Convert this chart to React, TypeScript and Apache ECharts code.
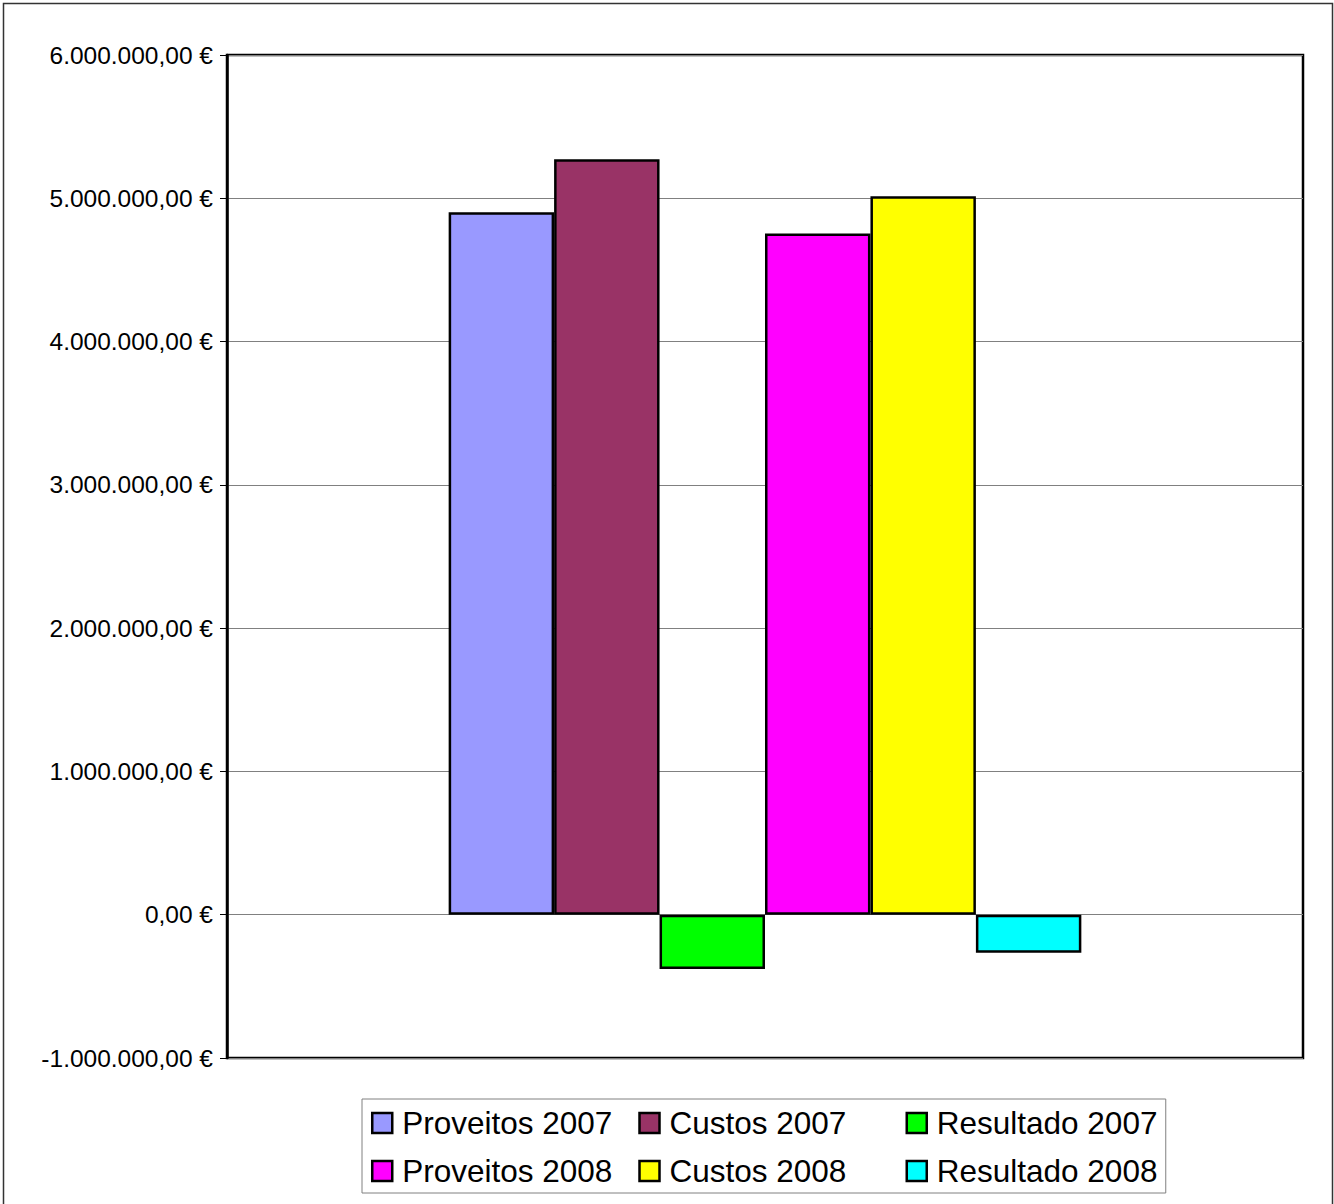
import React, { useEffect, useRef } from "react";
import * as echarts from "echarts";

const categories = ["2007/2008"];
const seriesNames = [
  "Proveitos 2007",
  "Custos 2007",
  "Resultado 2007",
  "Proveitos 2008",
  "Custos 2008",
  "Resultado 2008",
];
const proveitos2007 = [4902000];
const custos2007 = [5273000];
const resultado2007 = [-378000];
const proveitos2008 = [4755000];
const custos2008 = [5014000];
const resultado2008 = [-266000];
const seriesValues = [proveitos2007, custos2007, resultado2007, proveitos2008, custos2008, resultado2008];
const seriesColors = ["#9999FF", "#993366", "#00FF00", "#FF00FF", "#FFFF00", "#00FFFF"];
const yMin = -1000000;
const yMax = 6000000;
const yInterval = 1000000;

const FONT = "'Liberation Sans', Arial, sans-serif";

function formatEuro(v: number): string {
  const neg = v < 0;
  const abs = Math.abs(v);
  const intPart = Math.floor(abs).toString().replace(/\B(?=(\d{3})+(?!\d))/g, ".");
  const dec = Math.round((abs - Math.floor(abs)) * 100).toString().padStart(2, "0");
  return (neg ? "-" : "") + intPart + "," + dec + " €";
}

export default function App() {
  const ref = useRef<HTMLDivElement>(null);
  useEffect(() => {
    if (!ref.current) return;
    const chart = echarts.init(ref.current, null, { renderer: "svg" });
    chart.setOption({
      animation: false,
      backgroundColor: "#ffffff",
      textStyle: { fontFamily: FONT, color: "#000" },
      grid: {
        left: 227,
        right: 31,
        top: 55,
        bottom: 146,
        show: true,
        borderColor: "#000",
        borderWidth: 2.5,
        backgroundColor: "transparent",
      },
      xAxis: {
        type: "category",
        data: categories,
        axisLine: { show: false },
        axisTick: { show: false },
        axisLabel: { show: false },
        splitLine: { show: false },
      },
      yAxis: {
        type: "value",
        min: yMin,
        max: yMax,
        interval: yInterval,
        axisLine: { show: true, lineStyle: { color: "#000", width: 2.5 } },
        axisTick: { show: true, length: 7, lineStyle: { color: "#000", width: 1 } },
        axisLabel: {
          formatter: (v: number) => formatEuro(v),
          fontFamily: FONT,
          fontSize: 24.5,
          color: "#000",
          margin: 14,
        },
        splitLine: { show: true, lineStyle: { color: "#808080", width: 1 } },
      },
      legend: {
        data: seriesNames,
        left: 362,
        top: 1099,
        width: 810,
        orient: "horizontal",
        padding: [5, 3, 3, 9],
        borderColor: "#808080",
        borderWidth: 1,
        backgroundColor: "#fff",
        itemWidth: 20,
        itemHeight: 20,
        itemGap: 10,
        itemTextGap: 18,
        icon: "rect",
        itemStyle: { borderColor: "#000", borderWidth: 2.5 },
        textStyle: {
          fontFamily: FONT,
          fontSize: 31.5,
          color: "#000",
          width: 226,
          padding: [0, 0, 0, 5],
          lineHeight: 38,
        },
      },
      graphic: [
        {
          type: "rect",
          shape: { x: 3.5, y: 3.5, width: 1329, height: 1220 },
          style: { fill: "none", stroke: "#333", lineWidth: 1.5 },
          silent: true,
          z: 100,
        },
      ],
      series: seriesNames.map((name, i) => ({
        name,
        type: "bar",
        data: seriesValues[i],
        barGap: "0%",
        barCategoryGap: "41.2%",
        itemStyle: { color: seriesColors[i], borderColor: "#000", borderWidth: 2.5 },
      })),
    });
    return () => chart.dispose();
  }, []);
  return (
    <div
      ref={ref}
      style={{ position: "fixed", left: 0, top: 0, width: 1334, height: 1204 }}
    />
  );
}
